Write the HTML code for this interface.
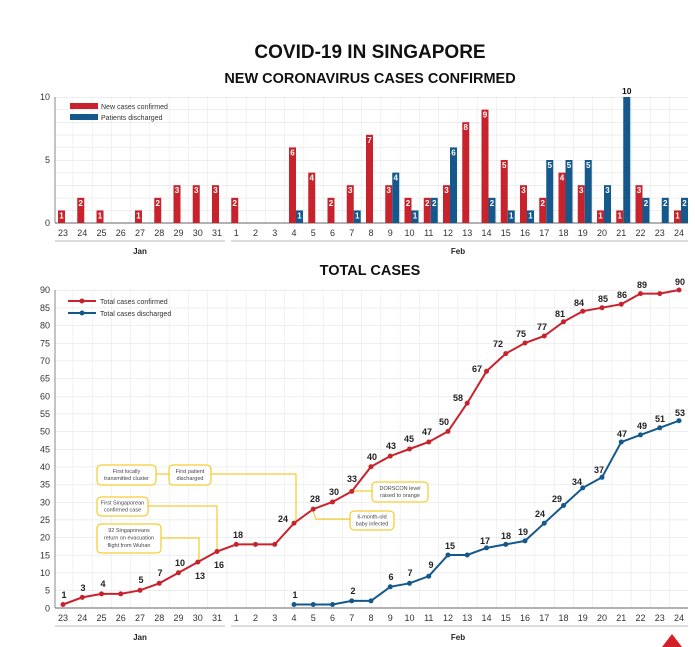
<!DOCTYPE html>
<html><head><meta charset="utf-8"><style>
html,body{margin:0;padding:0;background:#fff;}
svg{display:block;font-family:"Liberation Sans",sans-serif;}
.t{font-size:9px;fill:#333;text-anchor:middle}
.bl{font-size:8px;font-weight:bold;fill:#fff;text-anchor:middle}
.pl{font-size:9px;font-weight:bold;fill:#222;text-anchor:middle}
.an{font-size:5.5px;fill:#444;text-anchor:middle}
.box{fill:#fff;stroke:#f2c200;stroke-width:1}
.ln{fill:none;stroke:#f2c200;stroke-width:1}
</style></head><body>
<svg width="695" height="647" viewBox="0 0 695 647">
<defs>
<pattern id="gv" x="53.4" y="0" width="19.25" height="10" patternUnits="userSpaceOnUse"><line x1="0" y1="0" x2="0" y2="10" stroke="#dcdcdc" stroke-width="0.7"/></pattern>
<pattern id="gh1" x="0" y="97" width="10" height="12.6" patternUnits="userSpaceOnUse"><line x1="0" y1="0" x2="10" y2="0" stroke="#d0d0d0" stroke-width="0.7"/></pattern>
<pattern id="gh2" x="0" y="290" width="10" height="17.665" patternUnits="userSpaceOnUse"><line x1="0" y1="0" x2="10" y2="0" stroke="#d0d0d0" stroke-width="0.7"/></pattern>
</defs>
<text x="370" y="58" font-size="19" font-weight="bold" text-anchor="middle" fill="#111">COVID-19 IN SINGAPORE</text>
<text x="370" y="83" font-size="14.5" font-weight="bold" text-anchor="middle" fill="#111">NEW CORONAVIRUS CASES CONFIRMED</text>
<!-- top grid -->
<rect x="55" y="97" width="633" height="126" fill="url(#gv)"/>
<rect x="55" y="97" width="633" height="126" fill="url(#gh1)"/>
<line x1="55" y1="97" x2="55" y2="223" stroke="#888"/>
<line x1="55" y1="223" x2="688" y2="223" stroke="#666"/>
<text x="50" y="100" font-size="9" text-anchor="end" fill="#333">10</text>
<text x="50" y="163" font-size="9" text-anchor="end" fill="#333">5</text>
<text x="50" y="226" font-size="9" text-anchor="end" fill="#333">0</text>
<rect x="70" y="103" width="28" height="6" fill="#c8232c"/><text x="101" y="109" font-size="7" fill="#333">New cases confirmed</text>
<rect x="70" y="114" width="28" height="6" fill="#14588c"/><text x="101" y="120" font-size="7" fill="#333">Patients discharged</text>
<g fill="#c8232c">
<rect x="58" y="210.4" width="7" height="12.6"/><rect x="77.25" y="197.8" width="7" height="25.2"/><rect x="96.5" y="210.4" width="7" height="12.6"/><rect x="135" y="210.4" width="7" height="12.6"/><rect x="154.25" y="197.8" width="7" height="25.2"/><rect x="173.5" y="185.2" width="7" height="37.8"/><rect x="192.75" y="185.2" width="7" height="37.8"/><rect x="212" y="185.2" width="7" height="37.8"/><rect x="231.25" y="197.8" width="7" height="25.2"/><rect x="289" y="147.4" width="7" height="75.6"/><rect x="308.25" y="172.6" width="7" height="50.4"/><rect x="327.5" y="197.8" width="7" height="25.2"/><rect x="346.75" y="185.2" width="7" height="37.8"/><rect x="366" y="134.8" width="7" height="88.2"/><rect x="385.25" y="185.2" width="7" height="37.8"/><rect x="404.5" y="197.8" width="7" height="25.2"/><rect x="423.75" y="197.8" width="7" height="25.2"/><rect x="443" y="185.2" width="7" height="37.8"/><rect x="462.25" y="122.2" width="7" height="100.8"/><rect x="481.5" y="109.6" width="7" height="113.4"/><rect x="500.75" y="160" width="7" height="63"/><rect x="520" y="185.2" width="7" height="37.8"/><rect x="539.25" y="197.8" width="7" height="25.2"/><rect x="558.5" y="172.6" width="7" height="50.4"/><rect x="577.75" y="185.2" width="7" height="37.8"/><rect x="597" y="210.4" width="7" height="12.6"/><rect x="616.25" y="210.4" width="7" height="12.6"/><rect x="635.5" y="185.2" width="7" height="37.8"/><rect x="674" y="210.4" width="7" height="12.6"/>
</g>
<g fill="#14588c">
<rect x="296" y="210.4" width="7" height="12.6"/><rect x="353.75" y="210.4" width="7" height="12.6"/><rect x="392.25" y="172.6" width="7" height="50.4"/><rect x="411.5" y="210.4" width="7" height="12.6"/><rect x="430.75" y="197.8" width="7" height="25.2"/><rect x="450" y="147.4" width="7" height="75.6"/><rect x="488.5" y="197.8" width="7" height="25.2"/><rect x="507.75" y="210.4" width="7" height="12.6"/><rect x="527" y="210.4" width="7" height="12.6"/><rect x="546.25" y="160" width="7" height="63"/><rect x="565.5" y="160" width="7" height="63"/><rect x="584.75" y="160" width="7" height="63"/><rect x="604" y="185.2" width="7" height="37.8"/><rect x="623.25" y="97" width="7" height="126"/><rect x="642.5" y="197.8" width="7" height="25.2"/><rect x="661.75" y="197.8" width="7" height="25.2"/><rect x="681" y="197.8" width="7" height="25.2"/>
</g>
<g class="bl">
<text x="61.5" y="218.4">1</text><text x="80.75" y="205.8">2</text><text x="100" y="218.4">1</text><text x="138.5" y="218.4">1</text><text x="157.75" y="205.8">2</text><text x="177" y="193.2">3</text><text x="196.25" y="193.2">3</text><text x="215.5" y="193.2">3</text><text x="234.75" y="205.8">2</text><text x="292.5" y="155.4">6</text><text x="311.75" y="180.6">4</text><text x="331" y="205.8">2</text><text x="350.25" y="193.2">3</text><text x="369.5" y="142.8">7</text><text x="388.75" y="193.2">3</text><text x="408" y="205.8">2</text><text x="427.25" y="205.8">2</text><text x="446.5" y="193.2">3</text><text x="465.75" y="130.2">8</text><text x="485" y="117.6">9</text><text x="504.25" y="168">5</text><text x="523.5" y="193.2">3</text><text x="542.75" y="205.8">2</text><text x="562" y="180.6">4</text><text x="581.25" y="193.2">3</text><text x="600.5" y="218.4">1</text><text x="619.75" y="218.4">1</text><text x="639" y="193.2">3</text><text x="677.5" y="218.4">1</text>
<text x="299.5" y="218.4">1</text><text x="357.25" y="218.4">1</text><text x="395.75" y="180.6">4</text><text x="415" y="218.4">1</text><text x="434.25" y="205.8">2</text><text x="453.5" y="155.4">6</text><text x="492" y="205.8">2</text><text x="511.25" y="218.4">1</text><text x="530.5" y="218.4">1</text><text x="549.75" y="168">5</text><text x="569" y="168">5</text><text x="588.25" y="168">5</text><text x="607.5" y="193.2">3</text><text x="646" y="205.8">2</text><text x="665.25" y="205.8">2</text><text x="684.5" y="205.8">2</text>
</g>
<text x="626.75" y="94" font-size="8.5" font-weight="bold" text-anchor="middle" fill="#111">10</text>
<g class="t">
<text x="63" y="236">23</text><text x="82.25" y="236">24</text><text x="101.5" y="236">25</text><text x="120.75" y="236">26</text><text x="140" y="236">27</text><text x="159.25" y="236">28</text><text x="178.5" y="236">29</text><text x="197.75" y="236">30</text><text x="217" y="236">31</text><text x="236.25" y="236">1</text><text x="255.5" y="236">2</text><text x="274.75" y="236">3</text><text x="294" y="236">4</text><text x="313.25" y="236">5</text><text x="332.5" y="236">6</text><text x="351.75" y="236">7</text><text x="371" y="236">8</text><text x="390.25" y="236">9</text><text x="409.5" y="236">10</text><text x="428.75" y="236">11</text><text x="448" y="236">12</text><text x="467.25" y="236">13</text><text x="486.5" y="236">14</text><text x="505.75" y="236">15</text><text x="525" y="236">16</text><text x="544.25" y="236">17</text><text x="563.5" y="236">18</text><text x="582.75" y="236">19</text><text x="602" y="236">20</text><text x="621.25" y="236">21</text><text x="640.5" y="236">22</text><text x="659.75" y="236">23</text><text x="679" y="236">24</text>
</g>
<line x1="55" y1="241" x2="225" y2="241" stroke="#bbb"/><line x1="231" y1="241" x2="688" y2="241" stroke="#bbb"/>
<text x="140" y="254" font-size="8" font-weight="bold" text-anchor="middle" fill="#222">Jan</text>
<text x="458" y="254" font-size="8" font-weight="bold" text-anchor="middle" fill="#222">Feb</text>

<text x="370" y="275" font-size="14.5" font-weight="bold" text-anchor="middle" fill="#111">TOTAL CASES</text>
<!-- bottom grid -->
<rect x="55" y="290" width="633" height="318" fill="url(#gv)"/>
<rect x="55" y="290" width="633" height="318" fill="url(#gh2)"/>
<line x1="55" y1="290" x2="55" y2="608" stroke="#888"/>
<line x1="55" y1="608" x2="688" y2="608" stroke="#666"/>
<g font-size="9" text-anchor="end" fill="#333">
<text x="50" y="293">90</text><text x="50" y="311">85</text><text x="50" y="328.7">80</text><text x="50" y="346.3">75</text><text x="50" y="364">70</text><text x="50" y="381.7">65</text><text x="50" y="399.4">60</text><text x="50" y="417">55</text><text x="50" y="434.7">50</text><text x="50" y="452.4">45</text><text x="50" y="470">40</text><text x="50" y="487.7">35</text><text x="50" y="505.4">30</text><text x="50" y="523">25</text><text x="50" y="540.7">20</text><text x="50" y="558.4">15</text><text x="50" y="576">10</text><text x="50" y="593.7">5</text><text x="50" y="611.4">0</text>
</g>
<line x1="68" y1="301" x2="96" y2="301" stroke="#c8232c" stroke-width="2"/><circle cx="82" cy="301" r="2.5" fill="#c8232c"/><text x="100" y="304" font-size="7" fill="#333">Total cases confirmed</text>
<line x1="68" y1="313" x2="96" y2="313" stroke="#14588c" stroke-width="2"/><circle cx="82" cy="313" r="2.5" fill="#14588c"/><text x="100" y="316" font-size="7" fill="#333">Total cases discharged</text>

<!-- annotations -->
<polyline class="ln" points="156,474 169,474"/>
<polyline class="ln" points="211,474 296,474 296,521"/>
<polyline class="ln" points="148,506 217,506 217,550"/>
<polyline class="ln" points="161,538 199,538 199,561"/>
<polyline class="ln" points="354,491 372,491"/>
<polyline class="ln" points="313,511 316,519 350,519"/>
<rect class="box" x="97" y="465" width="59" height="20" rx="4"/>
<text class="an" x="126.5" y="473">First locally</text><text class="an" x="126.5" y="480">transmitted cluster</text>
<rect class="box" x="169" y="465" width="42" height="20" rx="4"/>
<text class="an" x="190" y="473">First patient</text><text class="an" x="190" y="480">discharged</text>
<rect class="box" x="97" y="497" width="51" height="19" rx="4"/>
<text class="an" x="122.5" y="504.5">First Singaporean</text><text class="an" x="122.5" y="511.5">confirmed case</text>
<rect class="box" x="97" y="524" width="64" height="29" rx="4"/>
<text class="an" x="129" y="532">92 Singaporeans</text><text class="an" x="129" y="539.5">return on evacuation</text><text class="an" x="129" y="547">flight from Wuhan</text>
<rect class="box" x="372" y="482" width="56" height="20" rx="4"/>
<text class="an" x="400" y="490">DORSCON level</text><text class="an" x="400" y="497">raised to orange</text>
<rect class="box" x="350" y="511" width="44" height="19" rx="4"/>
<text class="an" x="372" y="518.5">6-month-old</text><text class="an" x="372" y="525.5">baby infected</text>

<polyline fill="none" stroke="#c8232c" stroke-width="2" points="63,604.5 82.25,597.4 101.5,593.9 120.75,593.9 140,590.3 159.25,583.3 178.5,572.7 197.75,562.1 217,551.5 236.25,544.4 255.5,544.4 274.75,544.4 294,523.2 313.25,509.1 332.5,502 351.75,491.4 371,466.7 390.25,456.1 409.5,449 428.75,442 448,431.4 467.25,403.1 486.5,371.3 505.75,353.6 525,343 544.25,336 563.5,321.8 582.75,311.2 602,307.7 621.25,304.2 640.5,293.6 659.75,293.6 679,290"/>
<g fill="#c8232c">
<circle cx="63" cy="604.5" r="2.5"/><circle cx="82.25" cy="597.4" r="2.5"/><circle cx="101.5" cy="593.9" r="2.5"/><circle cx="120.75" cy="593.9" r="2.5"/><circle cx="140" cy="590.3" r="2.5"/><circle cx="159.25" cy="583.3" r="2.5"/><circle cx="178.5" cy="572.7" r="2.5"/><circle cx="197.75" cy="562.1" r="2.5"/><circle cx="217" cy="551.5" r="2.5"/><circle cx="236.25" cy="544.4" r="2.5"/><circle cx="255.5" cy="544.4" r="2.5"/><circle cx="274.75" cy="544.4" r="2.5"/><circle cx="294" cy="523.2" r="2.5"/><circle cx="313.25" cy="509.1" r="2.5"/><circle cx="332.5" cy="502" r="2.5"/><circle cx="351.75" cy="491.4" r="2.5"/><circle cx="371" cy="466.7" r="2.5"/><circle cx="390.25" cy="456.1" r="2.5"/><circle cx="409.5" cy="449" r="2.5"/><circle cx="428.75" cy="442" r="2.5"/><circle cx="448" cy="431.4" r="2.5"/><circle cx="467.25" cy="403.1" r="2.5"/><circle cx="486.5" cy="371.3" r="2.5"/><circle cx="505.75" cy="353.6" r="2.5"/><circle cx="525" cy="343" r="2.5"/><circle cx="544.25" cy="336" r="2.5"/><circle cx="563.5" cy="321.8" r="2.5"/><circle cx="582.75" cy="311.2" r="2.5"/><circle cx="602" cy="307.7" r="2.5"/><circle cx="621.25" cy="304.2" r="2.5"/><circle cx="640.5" cy="293.6" r="2.5"/><circle cx="659.75" cy="293.6" r="2.5"/><circle cx="679" cy="290" r="2.5"/>
</g>
<polyline fill="none" stroke="#14588c" stroke-width="2" points="294,604.5 313.25,604.5 332.5,604.5 351.75,600.9 371,600.9 390.25,586.8 409.5,583.3 428.75,576.2 448,555 467.25,555 486.5,547.9 505.75,544.4 525,540.9 544.25,523.2 563.5,505.5 582.75,487.9 602,477.3 621.25,442 640.5,434.9 659.75,427.8 679,420.7"/>
<g fill="#14588c">
<circle cx="294" cy="604.5" r="2.5"/><circle cx="313.25" cy="604.5" r="2.5"/><circle cx="332.5" cy="604.5" r="2.5"/><circle cx="351.75" cy="600.9" r="2.5"/><circle cx="371" cy="600.9" r="2.5"/><circle cx="390.25" cy="586.8" r="2.5"/><circle cx="409.5" cy="583.3" r="2.5"/><circle cx="428.75" cy="576.2" r="2.5"/><circle cx="448" cy="555" r="2.5"/><circle cx="467.25" cy="555" r="2.5"/><circle cx="486.5" cy="547.9" r="2.5"/><circle cx="505.75" cy="544.4" r="2.5"/><circle cx="525" cy="540.9" r="2.5"/><circle cx="544.25" cy="523.2" r="2.5"/><circle cx="563.5" cy="505.5" r="2.5"/><circle cx="582.75" cy="487.9" r="2.5"/><circle cx="602" cy="477.3" r="2.5"/><circle cx="621.25" cy="442" r="2.5"/><circle cx="640.5" cy="434.9" r="2.5"/><circle cx="659.75" cy="427.8" r="2.5"/><circle cx="679" cy="420.7" r="2.5"/>
</g>
<g class="pl">
<text x="64" y="598">1</text><text x="83" y="591">3</text><text x="103" y="587">4</text><text x="141" y="583">5</text><text x="160" y="576">7</text><text x="180" y="566">10</text><text x="200" y="579">13</text><text x="219" y="568">16</text><text x="238" y="538">18</text><text x="283" y="522">24</text><text x="315" y="502">28</text><text x="334" y="495">30</text><text x="352" y="482">33</text><text x="372" y="460">40</text><text x="391" y="449">43</text><text x="409" y="442">45</text><text x="427" y="435">47</text><text x="444" y="425">50</text><text x="458" y="401">58</text><text x="477" y="372">67</text><text x="498" y="347">72</text><text x="521" y="337">75</text><text x="542" y="330">77</text><text x="560" y="317">81</text><text x="579" y="306">84</text><text x="603" y="302">85</text><text x="622" y="298">86</text><text x="642" y="288">89</text><text x="680" y="285">90</text>
</g>
<g class="pl">
<text x="295" y="598">1</text><text x="353" y="594">2</text><text x="391" y="580">6</text><text x="410" y="576">7</text><text x="431" y="568">9</text><text x="450" y="549">15</text><text x="485" y="544">17</text><text x="506" y="539">18</text><text x="523" y="535">19</text><text x="540" y="517">24</text><text x="557" y="502">29</text><text x="577" y="485">34</text><text x="599" y="473">37</text><text x="622" y="437">47</text><text x="642" y="429">49</text><text x="660" y="422">51</text><text x="680" y="416">53</text>
</g>
<g class="t">
<text x="63" y="621">23</text><text x="82.25" y="621">24</text><text x="101.5" y="621">25</text><text x="120.75" y="621">26</text><text x="140" y="621">27</text><text x="159.25" y="621">28</text><text x="178.5" y="621">29</text><text x="197.75" y="621">30</text><text x="217" y="621">31</text><text x="236.25" y="621">1</text><text x="255.5" y="621">2</text><text x="274.75" y="621">3</text><text x="294" y="621">4</text><text x="313.25" y="621">5</text><text x="332.5" y="621">6</text><text x="351.75" y="621">7</text><text x="371" y="621">8</text><text x="390.25" y="621">9</text><text x="409.5" y="621">10</text><text x="428.75" y="621">11</text><text x="448" y="621">12</text><text x="467.25" y="621">13</text><text x="486.5" y="621">14</text><text x="505.75" y="621">15</text><text x="525" y="621">16</text><text x="544.25" y="621">17</text><text x="563.5" y="621">18</text><text x="582.75" y="621">19</text><text x="602" y="621">20</text><text x="621.25" y="621">21</text><text x="640.5" y="621">22</text><text x="659.75" y="621">23</text><text x="679" y="621">24</text>
</g>
<line x1="55" y1="626" x2="225" y2="626" stroke="#bbb"/><line x1="231" y1="626" x2="688" y2="626" stroke="#bbb"/>
<text x="140" y="640" font-size="8" font-weight="bold" text-anchor="middle" fill="#222">Jan</text>
<text x="458" y="640" font-size="8" font-weight="bold" text-anchor="middle" fill="#222">Feb</text>
<polygon points="662,647 672,634 682,647" fill="#d4202a"/>
</svg>
</body></html>
